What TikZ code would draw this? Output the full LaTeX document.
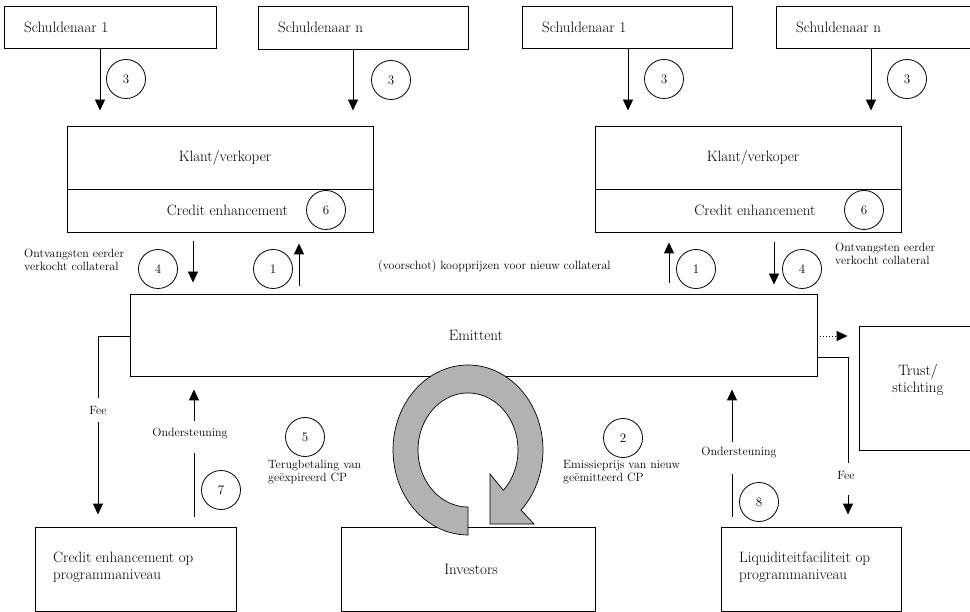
\documentclass[tikz,border=0pt]{standalone}
\usetikzlibrary{arrows.meta}
\newcommand\mainsize{\fontsize{15}{17}\selectfont}
\newcommand\labsize{\fontsize{12}{13}\selectfont}
\begin{document}
\begin{tikzpicture}[x=1pt,y=-1pt,
  box/.style={draw, line width=0.9pt, fill=white, inner sep=0pt, font=\mainsize},
  txt/.style={font=\mainsize, inner sep=0pt, anchor=west, align=left},
  num/.style={draw, circle, line width=0.8pt, minimum size=39pt, inner sep=0pt,
              font=\fontsize{13}{15}\selectfont},
  lbl/.style={font=\labsize, inner sep=0pt, anchor=west, align=left},
  cut/.style={font=\labsize, fill=white, inner xsep=2pt, inner ysep=0pt, anchor=base},
  flow/.style={line width=0.9pt, -{Triangle[length=11pt,width=10pt]}},
  ring/.style={fill=gray!60, draw=black, line width=0.7pt}]
\useasboundingbox (0,0) rectangle (970,612);
\clip (0,0) rectangle (970,612);

% debtors
\node[box, minimum width=212pt, minimum height=42pt] (s1L) at (110,27) {};
\node[txt] (s1Lt) at (24,27) {Schuldenaar 1};
\node[box, minimum width=210pt, minimum height=43pt] (snL) at (363,27.5) {};
\node[txt] (snLt) at (278,27.5) {Schuldenaar n};
\node[box, minimum width=210pt, minimum height=42pt] (s1R) at (627,27) {};
\node[txt] (s1Rt) at (542,27) {Schuldenaar 1};
\node[box, minimum width=210pt, minimum height=42pt] (snR) at (881,27) {};
\node[txt] (snRt) at (796,27) {Schuldenaar n};

% sellers with credit enhancement
\node[box, minimum width=306pt, minimum height=63pt] (kL) at (220,157.5) {\hspace{10pt}Klant/verkoper};
\node[box, minimum width=306pt, minimum height=43pt] (ceL) at (220,210.5) {\hspace{15pt}Credit enhancement};
\node[box, minimum width=306pt, minimum height=63pt] (kR) at (748,157.5) {\hspace{10pt}Klant/verkoper};
\node[box, minimum width=306pt, minimum height=43pt] (ceR) at (748,210.5) {\hspace{14pt}Credit enhancement};

% issuer and trust
\node[box, minimum width=687pt, minimum height=82pt] (emit) at (473.5,335) {\hspace{5pt}Emittent};
\node[box, minimum width=118pt, minimum height=124pt] (trust) at (918,388) {};
\node[txt, anchor=center, align=center] (trustt) at (918,380) {Trust/\\stichting};

% programme level parties
\node[box, minimum width=201pt, minimum height=84pt] (ceP) at (135.5,569) {};
\node[txt] (cePt) at (53,567) {Credit enhancement op\\programmaniveau};
\node[box, minimum width=254pt, minimum height=84pt] (inv) at (468,569) {\hspace{6pt}Investors};
\node[box, minimum width=180pt, minimum height=84pt] (liq) at (811,569) {};
\node[txt] (liqt) at (739,567) {Liquiditeitfaciliteit op\\programmaniveau};

% receivables flowing to the sellers
\draw[flow, shorten >=15pt] (s1L.south -| 100,0) -- (kL.north -| 100,0);
\draw[flow, shorten >=15pt] (snL.south -| 353,0) -- (kL.north -| 353,0);
\draw[flow, shorten >=15pt] (s1R.south -| 628,0) -- (kR.north -| 628,0);
\draw[flow, shorten >=15pt] (snR.south -| 871,0) -- (kR.north -| 871,0);

% sellers <-> issuer
\draw[flow, shorten <=9pt, shorten >=11pt] (ceL.south -| 193,0) -- (emit.north -| 193,0);
\draw[flow, shorten <=8pt, shorten >=11pt] (emit.north -| 299,0) -- (ceL.south -| 299,0);
\draw[flow, shorten <=11pt, shorten >=10pt] (emit.north -| 669,0) -- (ceR.south -| 669,0);
\draw[flow, shorten <=10pt, shorten >=9pt] (ceR.south -| 774,0) -- (emit.north -| 774,0);

% fees and support
\draw[flow, shorten >=12pt] (emit.west |- 0,336) -| (ceP.north -| 98,0);
\draw[flow, shorten <=10pt, shorten >=13pt] (ceP.north -| 194,0) -- (emit.south -| 194,0);
\draw[flow, shorten <=10pt, shorten >=13pt] (liq.north -| 732,0) -- (emit.south -| 732,0);
\draw[flow, shorten >=12pt] (emit.east |- 0,357) -| (liq.north -| 848,0);
\draw[flow, dotted, shorten >=11pt] (emit.east |- 0,336) -- (trust.west |- 0,336);

% revolving CP cycle
\draw[ring] plot[domain=90:405, samples=90] ({468+75*cos(\x)},{450+85*sin(\x)})
  -- (534,524) -- (490,524) -- (490,474)
  -- plot[domain=405:90, samples=90] ({468+50*cos(\x)},{450+57*sin(\x)}) -- cycle;

% step numbers
\node[num] (n3a) at (126,79) {3};
\node[num] (n3b) at (391,80) {3};
\node[num] (n3c) at (664,79) {3};
\node[num] (n3d) at (907,79) {3};
\node[num] (n6L) at (326,210) {6};
\node[num] (n6R) at (864,210) {6};
\node[num] (n4L) at (158,269) {4};
\node[num] (n1L) at (273,269) {1};
\node[num] (n1R) at (696,269) {1};
\node[num] (n4R) at (802,269) {4};
\node[num] (n5) at (305,437) {5};
\node[num] (n2) at (623,438) {2};
\node[num] (n7) at (221,490) {7};
\node[num] (n8) at (759,502) {8};

% flow labels
\node[lbl] (ontL) at (24,260) {Ontvangsten eerder\\verkocht collateral};
\node[lbl] (ontR) at (835,254) {Ontvangsten eerder\\verkocht collateral};
\node[lbl] (vsk) at (378,267) {(voorschot) koopprijzen voor nieuw collateral};
\node[lbl] (terug) at (268,472) {Terugbetaling van\\geëxpireerd CP};
\node[lbl] (emis) at (563,472) {Emissieprijs van nieuw\\geëmitteerd CP};
\node[cut, text height=17pt, text depth=7pt] (feeL) at (98,415) {Fee};
\node[cut, text height=16pt, text depth=16pt] (ondL) at (190,437) {Ondersteuning};
\node[cut, text height=14pt, text depth=18pt] (ondR) at (739,456) {Ondersteuning};
\node[cut, text height=16pt, text depth=16pt] (feeR) at (846,479) {Fee};
\end{tikzpicture}
\end{document}
